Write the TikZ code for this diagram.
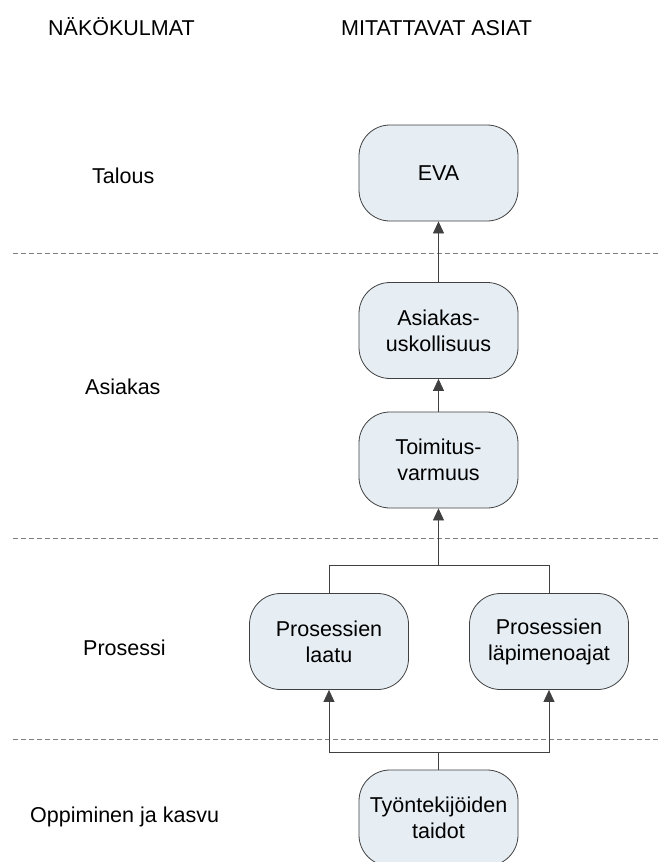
\documentclass[tikz,border=0pt]{standalone}
\usepackage{fontspec}
\setmainfont{Liberation Sans}
\usetikzlibrary{arrows.meta}
\definecolor{boxfill}{RGB}{230,238,244}
\definecolor{linegray}{RGB}{64,64,64}
\definecolor{sepgray}{RGB}{128,128,128}
\begin{document}
\begin{tikzpicture}[x=1pt,y=-1pt,
  every node/.style={font=\fontsize{21.5}{26}\selectfont},
  measure/.style={draw=linegray,line width=0.8pt,fill=boxfill,rounded corners=31pt,
    minimum width=159pt,minimum height=96pt,inner sep=0pt,align=center},
  label/.style={anchor=base west,inner sep=0pt},
  conn/.style={draw=linegray,line width=0.8pt},
  arr/.style={conn,-{Triangle[length=12pt,width=11pt]}},
  sep/.style={draw=sepgray,line width=0.9pt,dash pattern=on 5pt off 3pt}]
\useasboundingbox (0,0) rectangle (659,862);
\clip (0,0) rectangle (659,862);

% column headings
\node[label] (hview) at (48,35) {NÄKÖKULMAT};
\node[label] (hmeas) at (341,35) {MITATTAVAT ASIAT};

% perspective labels
\node[label] (ltal) at (92,183) {Talous};
\node[label] (lasi) at (85,394) {Asiakas};
\node[label] (lpro) at (83,655) {Prosessi};
\node[label] (lopp) at (30,822) {Oppiminen ja kasvu};

% separators between perspectives
\draw[sep] (13,253) -- (659,253);
\draw[sep] (13,538) -- (659,538);
\draw[sep] (13,739) -- (659,739);

% measures
\node[measure] (eva)  at (438.5,173)   {EVA};
\node[measure] (asi)  at (438.5,330.5) {Asiakas-\\uskollisuus};
\node[measure] (toim) at (438.5,460)   {Toimitus-\\varmuus};
\node[measure] (pl)   at (329,641.5)   {Prosessien\\laatu};
\node[measure] (pp)   at (549,641.5)   {Prosessien\\läpimenoajat};
\node[measure] (tt)   at (438.5,818)   {Työntekijöiden\\taidot};

% cause-and-effect links
\draw[arr] (asi.north) -- (eva.south);
\draw[arr] (toim.north) -- (asi.south);

\coordinate (split) at (438.5,565);
\draw[arr] (split) -- (toim.south);
\draw[conn] (split) -- (pl.north |- split) -- (pl.north);
\draw[conn] (split) -- (pp.north |- split) -- (pp.north);

\coordinate (join) at (438.5,752);
\draw[conn] (tt.north) -- (join);
\draw[arr] (join) -- (pl.south |- join) -- (pl.south);
\draw[arr] (join) -- (pp.south |- join) -- (pp.south);
\end{tikzpicture}
\end{document}
